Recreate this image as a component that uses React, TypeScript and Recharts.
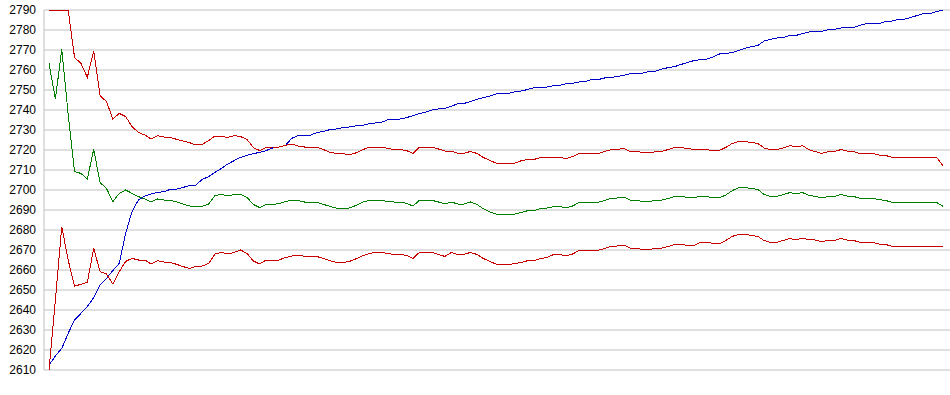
import React from "react";
import { LineChart, Line, XAxis, YAxis, CartesianGrid } from "recharts";

const yTicks = [2610, 2620, 2630, 2640, 2650, 2660, 2670, 2680, 2690, 2700, 2710, 2720, 2730, 2740, 2750, 2760, 2770, 2780, 2790];

const blue = [
  2612.5, 2617, 2620.8, 2628.3, 2635, 2638.3, 2641.7, 2646.2, 2652.5, 2655.8, 2659.7, 2663.3, 2678.3, 2689.2, 2695, 2697, 2698, 2698.8, 2699.2, 2700.3, 2700.5, 2701.3, 2702.2, 2702.5, 2705.3, 2706.7, 2708.8, 2710.8, 2713, 2714.7, 2716.3, 2717.3, 2718.2, 2718.8, 2719.7,
  2721, 2721.5, 2722.2, 2725.8, 2727.2, 2727.3, 2727.5, 2728.8, 2729.3, 2730.2, 2730.5, 2731.2, 2731.5, 2732, 2732.3, 2733, 2733.5, 2733.8, 2735, 2735.3, 2735.5, 2736.2, 2737.2, 2738.2, 2739, 2740, 2740.5, 2740.8, 2741.8, 2743.2, 2743.3, 2744.2, 2745.3, 2746.2, 2747, 2748,
  2748.2, 2748.3, 2749.2, 2749.5, 2750.3, 2751.2, 2751.3, 2751.5, 2752.2, 2752.3, 2753.2, 2753.3, 2754, 2754.3, 2755.2, 2755.2, 2756, 2756.2, 2756.8, 2757.3, 2758.2, 2758.2, 2758.5, 2759.2, 2759.5, 2760.5, 2761.2, 2761.7, 2762.8, 2763.8, 2764.7, 2765.2, 2765.5, 2766.5, 2768,
  2768.3, 2768.7, 2769.8, 2770.8, 2771.7, 2772.3, 2774.5, 2775.3, 2776, 2776.3, 2777.2, 2777.3, 2778.2, 2779, 2779.3, 2779.3, 2780.2, 2780.3, 2781, 2781.3, 2781.3, 2782.3, 2783.2, 2783.2, 2783.2, 2784.2, 2784.5, 2785.2, 2785.5, 2786.3, 2787.3, 2788.2, 2788.3, 2789.2, 2790,
];

const redUpper = [
  2790, 2790, 2790, 2790, 2766.3, 2763.3, 2756.3, 2769.5, 2747.2, 2744.2, 2735.5, 2738.3, 2736.7, 2731.7, 2728.8, 2727.5, 2725.5, 2727.2, 2726.5, 2726.3, 2725.3, 2724.5, 2723.7, 2722.5, 2722.8, 2724.7, 2727, 2726.7, 2726.3, 2727.2, 2726.7, 2725.3, 2721.2, 2719.7, 2721.3,
  2721.5, 2721.5, 2722.3, 2723, 2722, 2721.5, 2721.5, 2721.3, 2720.2, 2718.8, 2718.3, 2718.3, 2717.5, 2718.5, 2720, 2721.2, 2721.5, 2721.5, 2720.8, 2720.3, 2720.3, 2719.7, 2718.3, 2721.5, 2721.5, 2721.5, 2720.5, 2719.5, 2719.5, 2718.3, 2718.3, 2719.3, 2718.3, 2716.3, 2714.8, 2713.5,
  2713.3, 2713.3, 2713.5, 2714.7, 2715.3, 2715.3, 2716.3, 2716.3, 2716.3, 2716.3, 2715.7, 2716.7, 2718.2, 2718.2, 2718.2, 2718.2, 2719.2, 2720.2, 2720.3, 2720.8, 2719.2, 2719.2, 2718.8, 2718.5, 2719.2, 2719.3, 2720.3, 2721.2, 2721.2, 2720.8, 2720.2, 2720.2, 2720.2, 2719.7, 2719.8,
  2721.3, 2723.3, 2724.2, 2724.2, 2723.7, 2723.3, 2721, 2720.2, 2720.2, 2721, 2722.2, 2721.5, 2722.2, 2720.2, 2719.2, 2718.3, 2719.2, 2719.2, 2720.2, 2719.5, 2719.2, 2718.2, 2718.2, 2718.2, 2717.5, 2717.3, 2716.3, 2716.3, 2716.3, 2716.3, 2716.3, 2716.3, 2716.3, 2716.3, 2712.2,
];

const green = [
  2763.3, 2745.5, 2770.3, 2738, 2709.2, 2708.3, 2705.5, 2720.3, 2703.7, 2700.8, 2694.2, 2698.3, 2700, 2698.3, 2696.7, 2695.5, 2694, 2695.5, 2695, 2694.8, 2694, 2693, 2692, 2691.8, 2691.8, 2693, 2697.2, 2697.8, 2697, 2697.8, 2697.8, 2696.3, 2692.8, 2691.2, 2692.8,
  2692.8, 2693.2, 2694.2, 2694.8, 2694.7, 2694, 2694, 2693.8, 2692.8, 2691.8, 2691, 2691, 2691, 2692.2, 2693.8, 2694.7, 2694.8, 2694.8, 2694.3, 2694, 2694, 2693.3, 2692, 2694.8, 2694.8, 2694.8, 2694, 2693, 2694, 2693, 2693, 2694, 2692.8, 2690.7, 2689, 2688,
  2687.8, 2687.8, 2688, 2688.8, 2689.7, 2689.8, 2690.7, 2691, 2691.7, 2691.8, 2691, 2692, 2693.7, 2693.8, 2693.8, 2693.8, 2694.8, 2695.8, 2696, 2696.5, 2695, 2694.8, 2694.3, 2694.2, 2694.8, 2695, 2695.8, 2696.8, 2696.8, 2696.3, 2696.2, 2696.8, 2696.8, 2696, 2696.2,
  2697.5, 2699.7, 2701.2, 2701.2, 2700.7, 2700.3, 2697.7, 2696.8, 2696.8, 2697.7, 2698.7, 2698.2, 2698.7, 2697.3, 2696.8, 2696, 2696.8, 2696.8, 2697.7, 2697, 2696.8, 2695.8, 2695.8, 2695.8, 2695.2, 2694.8, 2693.8, 2693.8, 2693.8, 2693.8, 2693.8, 2693.8, 2693.8, 2693.8, 2691.8,
];

const redLower = [
  2610, 2645, 2681.7, 2665, 2652, 2652.8, 2653.8, 2670.8, 2659.2, 2658, 2653, 2659.2, 2664.3, 2665.8, 2665, 2665, 2663, 2664.7, 2664, 2663.8, 2662.8, 2661.7, 2660.8, 2661.7, 2662, 2663.3, 2668, 2668.8, 2668, 2668.8, 2670, 2668.3, 2664.5, 2663, 2665,
  2664.8, 2665, 2666.2, 2667, 2667.5, 2666.8, 2666.8, 2666.7, 2665.7, 2664.7, 2663.8, 2663.8, 2664.2, 2665.5, 2667, 2668, 2668.8, 2668.8, 2668.3, 2667.8, 2667.8, 2667.3, 2665.8, 2668.8, 2668.8, 2668.8, 2667.7, 2666.8, 2668.7, 2667.8, 2667.8, 2668.8, 2667.8, 2665.8, 2664.3, 2663,
  2662.8, 2662.8, 2663.2, 2663.8, 2664.7, 2664.8, 2665.7, 2666.3, 2667.7, 2667.8, 2667, 2668, 2669.7, 2669.8, 2669.8, 2669.8, 2670.8, 2671.8, 2672, 2672.5, 2671, 2670.8, 2670.3, 2670.2, 2670.8, 2671, 2671.8, 2672.8, 2672.8, 2672.3, 2672.2, 2673.8, 2673.8, 2673.3, 2673.2,
  2674.8, 2676.8, 2677.8, 2677.8, 2677.3, 2676.8, 2674.7, 2673.8, 2673.8, 2674.8, 2675.7, 2675.2, 2675.8, 2675.2, 2675, 2674.2, 2674.8, 2674.8, 2675.7, 2675, 2674.8, 2673.8, 2673.8, 2673.8, 2673, 2672.8, 2671.8, 2671.8, 2671.8, 2671.8, 2671.8, 2671.8, 2671.8, 2671.8, 2671.8,
];

const data = blue.map((b, i) => ({
  i,
  blue: b,
  redUpper: redUpper[i],
  green: green[i],
  redLower: redLower[i],
}));

export default function App() {
  return (
    <div style={{ position: "absolute", left: 0, top: 0, background: "#fff" }}>
      <LineChart
        width={950}
        height={395}
        data={data}
        margin={{ top: 10, right: 0, bottom: 25, left: 0 }}
      >
        <CartesianGrid horizontal vertical={false} stroke="#c0c0c0" strokeWidth={1} />
        <XAxis dataKey="i" hide padding={{ left: 5, right: 7 }} />
        <YAxis
          width={44}
          domain={[2610, 2790]}
          ticks={yTicks}
          interval={0}
          tickLine={false}
          axisLine={{ stroke: "#c0c0c0" }}
          tick={{ fill: "#000", fontSize: 12, fontFamily: "Liberation Sans, Arial, sans-serif" }}
          allowDataOverflow
        />
        <Line type="linear" dataKey="blue" stroke="#0000c8" strokeWidth={1} dot={false} isAnimationActive={false} shapeRendering="crispEdges" />
        <Line type="linear" dataKey="redUpper" stroke="#c80000" strokeWidth={1} dot={false} isAnimationActive={false} shapeRendering="crispEdges" />
        <Line type="linear" dataKey="green" stroke="#008000" strokeWidth={1} dot={false} isAnimationActive={false} shapeRendering="crispEdges" />
        <Line type="linear" dataKey="redLower" stroke="#c80000" strokeWidth={1} dot={false} isAnimationActive={false} shapeRendering="crispEdges" />
      </LineChart>
    </div>
  );
}
